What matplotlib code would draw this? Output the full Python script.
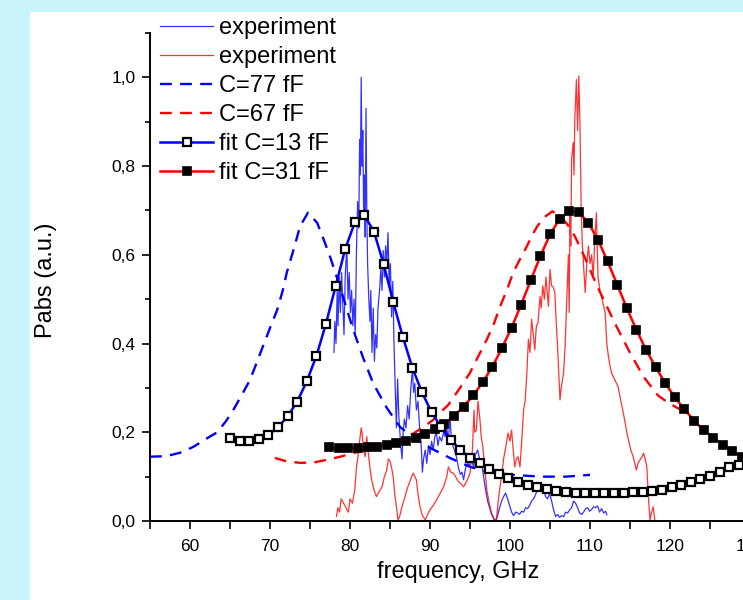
import matplotlib
matplotlib.use('Agg')
import matplotlib.pyplot as plt
from matplotlib.patches import Rectangle
from matplotlib.ticker import MultipleLocator, FuncFormatter

plt.rcParams['font.family'] = ['Liberation Sans', 'DejaVu Sans']

# measured spectra (thin lines)
exp_blue_x = [78.0, 78.1, 78.25, 78.4, 78.5, 78.65, 78.8, 78.95, 79.1, 79.25, 79.4, 79.6, 79.75,
              79.9, 80.05, 80.2, 80.35, 80.5, 80.65, 80.8, 80.95, 81.1, 81.2, 81.3, 81.4, 81.5,
              81.6, 81.7, 81.8, 81.9, 82.0, 82.1, 82.2, 82.35, 82.5, 82.6, 82.75, 82.9, 83.05,
              83.2, 83.35, 83.5, 83.7, 83.85, 84.0, 84.15, 84.3, 84.45, 84.6, 84.75, 84.9, 85.05,
              85.2, 85.35, 85.5, 85.65, 85.8, 85.95, 86.1, 86.3, 86.5, 86.65, 86.8, 87.0, 87.2,
              87.4, 87.6, 87.8, 87.95, 88.1, 88.3, 88.5, 88.7, 88.9, 89.05, 89.2, 89.4, 89.6,
              89.8, 90.0, 90.2, 90.4, 90.6, 90.8, 91.0, 91.2, 91.45, 91.7, 91.9, 92.1, 92.3,
              92.5, 92.65, 92.85, 93.05, 93.3, 93.55, 93.8, 94.0, 94.2, 94.45, 94.7, 94.95,
              95.2, 95.45, 95.7, 95.95, 96.2, 96.45, 96.7, 96.95, 97.2, 97.45, 97.7, 97.95,
              98.2, 98.45, 98.7, 98.95, 99.2, 99.45, 99.7, 99.95, 100.2, 100.45, 100.7, 100.95,
              101.2, 101.45, 101.7, 101.95, 102.2, 102.45, 102.7, 102.95, 103.2, 103.45, 103.7,
              103.95, 104.2, 104.45, 104.7, 104.95, 105.2, 105.45, 105.7, 105.95, 106.2, 106.45,
              106.7, 106.95, 107.2, 107.45, 107.7, 107.95, 108.2, 108.45, 108.7, 108.95, 109.2,
              109.45, 109.7, 109.95, 110.2, 110.45, 110.7, 110.95, 111.2, 111.45, 111.7, 111.95,
              112.1]
exp_blue_y = [0.38, 0.45, 0.40, 0.52, 0.44, 0.55, 0.47, 0.56, 0.49, 0.42, 0.55, 0.62, 0.50,
              0.56, 0.47, 0.52, 0.44, 0.50, 0.42, 0.60, 0.72, 0.66, 0.86, 0.78, 1.00, 0.80,
              0.88, 0.70, 0.78, 0.64, 0.93, 0.70, 0.58, 0.50, 0.45, 0.52, 0.38, 0.48, 0.36,
              0.42, 0.39, 0.48, 0.52, 0.57, 0.52, 0.61, 0.55, 0.62, 0.58, 0.65, 0.53, 0.58,
              0.46, 0.54, 0.40, 0.30, 0.21, 0.32, 0.24, 0.18, 0.14, 0.20, 0.23, 0.21, 0.26,
              0.23, 0.30, 0.34, 0.29, 0.31, 0.25, 0.27, 0.21, 0.17, 0.11, 0.14, 0.16, 0.13,
              0.17, 0.15, 0.18, 0.16, 0.19, 0.20, 0.17, 0.19, 0.18, 0.20, 0.19, 0.21, 0.18,
              0.235, 0.19, 0.17, 0.16, 0.145, 0.12, 0.105, 0.11, 0.093, 0.12, 0.13, 0.125,
              0.14, 0.12, 0.15, 0.16, 0.14, 0.13, 0.10, 0.07, 0.045, 0.03, 0.015, 0.005,
              0.0, 0.012, 0.03, 0.045, 0.055, 0.063, 0.05, 0.035, 0.02, 0.012, 0.02, 0.018,
              0.015, 0.022, 0.02, 0.03, 0.028, 0.035, 0.045, 0.05, 0.06, 0.07, 0.075,
              0.085, 0.07, 0.055, 0.05, 0.062, 0.045, 0.025, 0.01, 0.015, 0.008, 0.012,
              0.01, 0.02, 0.018, 0.025, 0.03, 0.045, 0.04, 0.03, 0.018, 0.015, 0.02,
              0.028, 0.03, 0.022, 0.026, 0.032, 0.03, 0.034, 0.02, 0.028, 0.018, 0.022,
              0.014]

exp_red_x = [78.3, 78.5, 78.7, 78.9, 79.2, 79.5, 79.8, 80.0, 80.3, 80.6, 80.8, 81.0, 81.2, 81.4,
             81.5, 81.7, 81.9, 82.1, 82.3, 82.5, 82.7, 83.0, 83.3, 83.6, 84.0, 84.3, 84.6, 84.8,
             85.0, 85.2, 85.4, 85.6, 85.8, 86.0, 86.2, 86.5, 86.8, 87.1, 87.4, 87.7, 87.9, 88.1,
             88.3, 88.5, 88.75, 89.0, 89.4, 89.7, 90.0, 90.4, 90.8, 91.2, 91.7, 92.1, 92.3, 92.6,
             92.9, 93.2, 93.5, 93.8, 94.2, 94.6, 95.0, 95.3, 95.5, 95.6, 95.8, 96.0, 96.25, 96.4,
             96.6, 96.9, 97.1, 97.4, 97.7, 98.0, 98.3, 98.5, 98.75, 99.0, 99.2, 99.5, 99.75,
             100.0, 100.2, 100.4, 100.6, 100.8, 101.0, 101.25, 101.5, 101.7, 101.9, 102.1, 102.3,
             102.5, 102.7, 102.9, 103.1, 103.3, 103.5, 103.75, 103.9, 104.1, 104.3, 104.5, 104.8,
             105.0, 105.2, 105.4, 105.6, 105.8, 106.0, 106.25, 106.4, 106.7, 106.9, 107.1, 107.3,
             107.4, 107.5, 107.6, 107.7, 107.9, 108.0, 108.1, 108.3, 108.45, 108.6, 108.75, 108.9,
             109.05, 109.2, 109.4, 109.6, 109.8, 110.0, 110.2, 110.4, 110.6, 110.8, 111.0, 111.25,
             111.5, 111.9, 112.1, 112.3, 112.5, 112.7, 113.1, 113.5, 113.75, 114.0, 114.2, 114.4,
             114.6, 114.8, 115.1, 115.4, 115.6, 115.8, 116.0, 116.25, 116.5, 116.7, 116.9, 117.1,
             117.3, 117.5, 117.7, 117.9, 118.1]
exp_red_y = [0.01, 0.03, 0.02, 0.05, 0.04, 0.03, 0.02, 0.05, 0.04, 0.07, 0.12, 0.145, 0.18, 0.21,
             0.20, 0.16, 0.145, 0.19, 0.15, 0.12, 0.093, 0.07, 0.055, 0.065, 0.077, 0.10, 0.115,
             0.14, 0.135, 0.12, 0.10, 0.06, 0.032, 0.002, 0.01, 0.032, 0.05, 0.07, 0.085, 0.10,
             0.108, 0.10, 0.093, 0.06, 0.032, 0.015, 0.002, 0.015, 0.025, 0.035, 0.047, 0.06,
             0.077, 0.10, 0.122, 0.11, 0.108, 0.10, 0.09, 0.085, 0.077, 0.09, 0.108, 0.16, 0.25,
             0.20, 0.205, 0.27, 0.228, 0.19, 0.168, 0.11, 0.07, 0.04, 0.017, 0.005, 0.002, 0.04,
             0.077, 0.11, 0.14, 0.17, 0.198, 0.18, 0.205, 0.16, 0.122, 0.14, 0.145, 0.122, 0.19,
             0.25, 0.273, 0.33, 0.41, 0.38, 0.455, 0.42, 0.386, 0.44, 0.446, 0.506, 0.48, 0.53,
             0.50, 0.55, 0.484, 0.567, 0.53, 0.528, 0.515, 0.44, 0.371, 0.273, 0.30, 0.334, 0.40,
             0.499, 0.60, 0.47, 0.70, 0.62, 0.815, 0.853, 0.78, 0.905, 0.995, 0.88, 1.003, 0.89,
             0.70, 0.62, 0.574, 0.515, 0.58, 0.62, 0.58, 0.60, 0.55, 0.634, 0.695, 0.55, 0.52,
             0.50, 0.469, 0.40, 0.371, 0.35, 0.333, 0.318, 0.303, 0.28, 0.258, 0.24, 0.22, 0.20,
             0.183, 0.16, 0.145, 0.13, 0.115, 0.13, 0.138, 0.145, 0.153, 0.14, 0.122, 0.055, 0.002,
             0.02, 0.032, 0.002]

# model curves (dashed)
c77_x = [55, 57, 59, 60.5, 62, 63.4, 64.5, 65.4, 66.5, 67.5, 68.3, 69.1, 70.0, 70.9, 71.6, 72.1,
         73.0, 73.75, 74.75, 75.9, 76.7, 77.5, 78.75, 80.4, 81.6, 82.9, 84.6, 86.25, 87.9, 90.0,
         92.5, 95.0, 97.5, 100.4, 103.75, 107.0, 110.0]
c77_y = [0.145, 0.146, 0.155, 0.168, 0.185, 0.20, 0.225, 0.25, 0.285, 0.318, 0.355, 0.393, 0.435,
         0.476, 0.52, 0.56, 0.615, 0.664, 0.695, 0.672, 0.635, 0.596, 0.528, 0.431, 0.37, 0.31,
         0.255, 0.212, 0.188, 0.165, 0.142, 0.122, 0.11, 0.104, 0.1, 0.1, 0.104]

c67_x = [70.6, 72.0, 73.75, 75.5, 77.1, 78.8, 80.4, 82.0, 83.5, 85.0, 86.5, 87.9, 89.2, 90.4, 91.25,
         92.3, 93.75, 95.0, 96.0, 97.1, 98.0, 98.75, 99.6, 100.4, 101.3, 102.1, 102.8, 103.4, 104.3,
         105.3, 106.25, 107.2, 108.1, 109.2, 110.4, 111.2, 112.1, 113.3, 115.0, 116.7, 118.5, 119.5,
         120.8, 122.1, 123.3, 124.6, 126.0, 127.5, 129.5]
c67_y = [0.142, 0.135, 0.131, 0.132, 0.138, 0.145, 0.153, 0.160, 0.167, 0.175, 0.186, 0.197, 0.212,
         0.228, 0.244, 0.262, 0.30, 0.334, 0.37, 0.409, 0.445, 0.483, 0.52, 0.56, 0.592, 0.619,
         0.645, 0.664, 0.685, 0.698, 0.687, 0.668, 0.642, 0.60, 0.55, 0.518, 0.484, 0.439, 0.379,
         0.325, 0.283, 0.270, 0.256, 0.244, 0.221, 0.199, 0.18, 0.16, 0.138]

# fits with markers
fit13_x = [65.0, 66.2, 67.4, 68.6, 69.8, 71.0, 72.2, 73.4, 74.6, 75.8, 77.0, 78.2, 79.4, 80.6,
           81.8, 83.0, 84.2, 85.4, 86.6, 87.8, 89.0, 90.2, 91.4, 92.6, 93.8, 95.0, 96.2, 97.4,
           98.6, 99.8, 101.0, 102.2, 103.4, 104.6, 105.8, 107.0, 108.2, 109.4, 110.6, 111.8,
           113.0, 114.2, 115.4, 116.6, 117.8, 119.0, 120.2, 121.4, 122.6, 123.8, 125.0, 126.2,
           127.4, 128.6]
fit13_y = [0.187, 0.181, 0.181, 0.184, 0.194, 0.211, 0.236, 0.269, 0.315, 0.372, 0.445, 0.529,
           0.613, 0.673, 0.689, 0.652, 0.579, 0.494, 0.415, 0.345, 0.290, 0.245, 0.211, 0.183,
           0.160, 0.143, 0.130, 0.117, 0.105, 0.096, 0.087, 0.081, 0.076, 0.072, 0.068, 0.066,
           0.064, 0.063, 0.063, 0.063, 0.063, 0.063, 0.065, 0.066, 0.068, 0.071, 0.077, 0.081,
           0.087, 0.094, 0.101, 0.111, 0.121, 0.126]

fit31_x = [77.4, 78.6, 79.8, 81.0, 82.2, 83.4, 84.6, 85.8, 87.0, 88.2, 89.4, 90.6, 91.8, 93.0,
           94.2, 95.4, 96.6, 97.8, 99.0, 100.2, 101.4, 102.6, 103.8, 105.0, 106.2, 107.4, 108.6,
           109.8, 111.0, 112.2, 113.4, 114.6, 115.8, 117.0, 118.2, 119.4, 120.6, 121.8, 123.0,
           124.2, 125.4, 126.6, 127.8, 129.0]
fit31_y = [0.166, 0.164, 0.164, 0.165, 0.166, 0.167, 0.171, 0.175, 0.181, 0.187, 0.196, 0.207,
           0.219, 0.237, 0.258, 0.283, 0.313, 0.348, 0.390, 0.436, 0.488, 0.543, 0.597, 0.646,
           0.681, 0.698, 0.696, 0.672, 0.634, 0.585, 0.533, 0.480, 0.431, 0.386, 0.347, 0.311,
           0.279, 0.252, 0.226, 0.205, 0.188, 0.172, 0.158, 0.145]

W, H = 743, 600
fig = plt.figure(figsize=(W / 100, H / 100), dpi=100, facecolor='#c8f4fa')
fig.patches.append(Rectangle((30 / W, 0), 1, 1 - 12 / H, transform=fig.transFigure,
                             facecolor='white', edgecolor='none', zorder=-10))

# x: 8 px per GHz starting at 55 GHz, axes runs past the right edge
ax = fig.add_axes([150 / W, 79 / H, 640 / W, 488 / H])
ax.set_facecolor('none')
ax.set_zorder(1)

l1, = ax.plot(exp_blue_x, exp_blue_y, color='#0000ff', lw=0.9, alpha=0.8, label='experiment')
l2, = ax.plot(exp_red_x, exp_red_y, color='#ff0000', lw=0.9, alpha=0.8, label='experiment')
l3, = ax.plot(c77_x, c77_y, color='#0000ff', lw=1.7, dashes=(5, 3.5), label='C=77 fF')
l4, = ax.plot(c67_x, c67_y, color='#ff0000', lw=1.7, dashes=(5, 3.5), label='C=67 fF')
l6, = ax.plot(fit31_x, fit31_y, color='#ff0000', lw=1.8, marker='s', ms=6.3,
              mfc='black', mec='black', mew=1.2, label='fit C=31 fF', zorder=3)
l5, = ax.plot(fit13_x, fit13_y, color='#0000ff', lw=1.8, marker='s', ms=6.3,
              mfc='white', mec='black', mew=1.6, label='fit C=13 fF', zorder=4)

ax.set_xlim(55, 135)
ax.set_ylim(0, 1.1)
ax.xaxis.set_major_locator(MultipleLocator(10))
ax.xaxis.set_minor_locator(MultipleLocator(5))
ax.yaxis.set_major_locator(MultipleLocator(0.2))
ax.yaxis.set_minor_locator(MultipleLocator(0.1))
ax.yaxis.set_major_formatter(FuncFormatter(lambda v, p: ('%.1f' % v).replace('.', ',')))

for s in ['top', 'right']:
    ax.spines[s].set_visible(False)
for s in ['left', 'bottom']:
    ax.spines[s].set_linewidth(1.4)
ax.tick_params(axis='both', which='both', direction='out', width=1.2, labelsize=12.5)
ax.tick_params(axis='x', which='both', length=5.8, pad=7)
ax.tick_params(axis='y', which='major', length=5.8, pad=4.5)
ax.tick_params(axis='y', which='minor', length=3.5)

fig.text(458 / W, 1 - 572 / H, 'frequency, GHz', ha='center', va='center', fontsize=17)
fig.text(46 / W, 1 - 280 / H, 'Pabs (a.u.)', ha='center', va='center', rotation=90, fontsize=17)

fig.legend(handles=[l1, l2, l3, l4, l5, l6], loc='upper left',
           bbox_to_anchor=(160 / W, 1 - 17 / H), bbox_transform=fig.transFigure,
           frameon=False, fontsize=17, borderpad=0, borderaxespad=0, labelspacing=0.3,
           handlelength=2.25, handletextpad=0.25, numpoints=1)

fig.savefig('out.png', dpi=100, facecolor=fig.get_facecolor())
